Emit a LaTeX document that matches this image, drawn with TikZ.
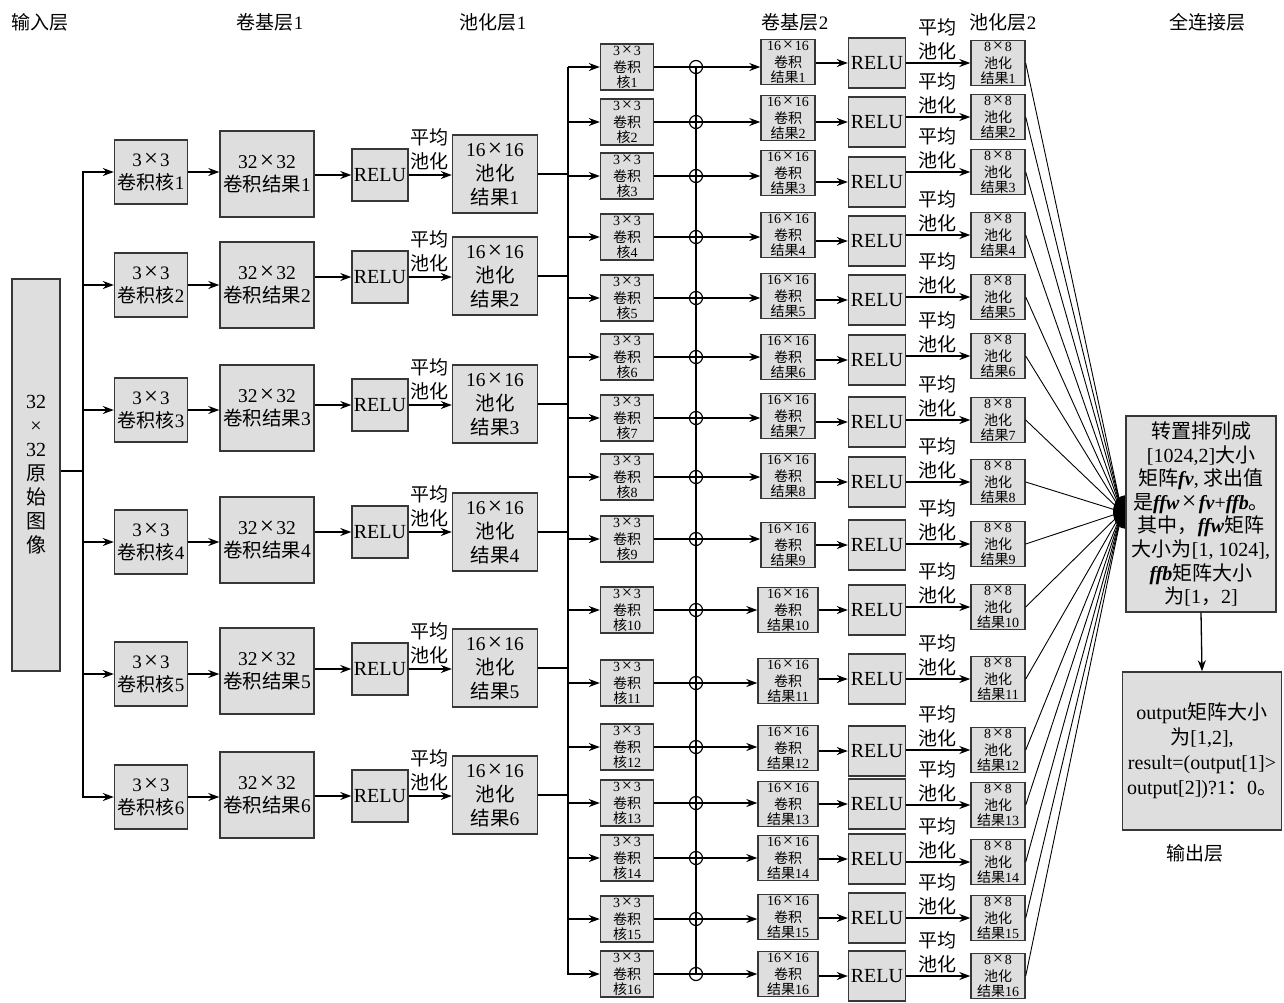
\documentclass[tikz,border=0pt]{standalone}
\usepackage{graphicx}
\usepackage{fontspec}
\setmainfont{Liberation Serif}
\newfontfamily\cjk{Noto Sans CJK SC}
\usetikzlibrary{arrows.meta}
\definecolor{boxgray}{RGB}{222,222,222}
\definecolor{edge}{RGB}{55,55,55}
\newcommand{\zh}[1]{{\cjk #1}}
\newcommand{\tms}{\hspace{0.12em}\scalebox{1.3}{×}\hspace{0.12em}}
\newcommand{\bi}[1]{\textbf{\textit{#1}}}
\begin{document}
\begin{tikzpicture}[x=1pt,y=-1pt,
  box/.style={draw=edge, fill=boxgray, line width=1.4pt, inner sep=0pt, align=center},
  kone/.style={box, minimum width=73pt, minimum height=64pt, font=\fontsize{19}{23}\selectfont},
  rone/.style={box, minimum width=94pt, minimum height=86pt, font=\fontsize{19.5}{23}\selectfont},
  uone/.style={box, minimum width=56pt, minimum height=52pt, font=\fontsize{20}{23}\selectfont},
  pone/.style={box, minimum width=85pt, minimum height=78pt, font=\fontsize{19.5}{24}\selectfont},
  ktwo/.style={box, minimum width=53pt, minimum height=46pt, font=\fontsize{14}{14.5}\selectfont},
  rtwo/.style={box, minimum height=45pt, font=\fontsize{14}{14.5}\selectfont},
  utwo/.style={box, minimum width=57pt, minimum height=50pt, font=\fontsize{20}{23}\selectfont},
  ptwo/.style={box, minimum width=54pt, minimum height=45pt, font=\fontsize{14}{14.5}\selectfont},
  lbl/.style={inner sep=0pt, font=\fontsize{19}{22}\selectfont},
  ttl/.style={inner sep=0pt, font=\fontsize{19}{22}\selectfont},
  circ/.style={circle, draw=black, line width=1.2pt, minimum size=13pt, inner sep=0pt},
  ln/.style={draw=black, line width=1.3pt},
  arr/.style={ln, -{Stealth[length=11pt,width=8pt]}},
  fcl/.style={draw=black, line width=0.9pt}
]
\useasboundingbox (0,0) rectangle (1284,1002);
\fill[white] (0,0) rectangle (1284,1002);

% titles
\node[ttl] (t1) at (40,22) {\zh{输入层}};
\node[ttl] (t2) at (270,22) {\zh{卷基层}1};
\node[ttl] (t3) at (493,22) {\zh{池化层}1};
\node[ttl] (t4) at (795,22) {\zh{卷基层}2};
\node[ttl] (t5) at (1003,22) {\zh{池化层}2};
\node[ttl] (t6) at (1207,22) {\zh{全连接层}};

% input
\node[box, minimum width=48pt, minimum height=392pt, font=\fontsize{20}{24}\selectfont] (in) at (36,475)
  {32\\×\\32\\\zh{原}\\\zh{始}\\\zh{图}\\\zh{像}};
\coordinate (inbus) at (83,471);
\coordinate (bustop) at (568,67);
\draw[ln] (in.east |- inbus) -- (inbus);

% stage 1
\foreach \i/\ky/\ry/\uy/\py in {1/172/174/175/174,2/285/285/277/276,3/410/408/405/404,4/542/540/532/532,5/674/671/669/668,6/797/795/796/795}{
  \node[kone] (ka\i) at (151,\ky) {3\tms3\\\zh{卷积核}\i};
  \node[rone] (ra\i) at (267,\ry) {32\tms32\\\zh{卷积结果}\i};
  \node[uone] (ua\i) at (380,\uy) {RELU};
  \node[pone] (pa\i) at (495,\py) {16\tms16\\\zh{池化}\\\zh{结果}\i};
  \node[lbl] (la\i) at (429,\uy-38) {\zh{平均}};
  \node[lbl] (lb\i) at (429,\uy-14) {\zh{池化}};
  \draw[arr] (inbus) |- (ka\i.west);
  \draw[arr] (ka\i.east) -- (ka\i.east -| ra\i.west);
  \draw[arr] (ra\i.east |- ua\i.west) -- (ua\i.west);
  \draw[arr] (ua\i.east) -- (ua\i.east -| pa\i.west);
  \draw[ln] (pa\i.east) -- (pa\i.east -| bustop);
}

\coordinate (conv) at (1122,512);

% stage 2
\foreach \i/\ky/\ry/\uy/\py in {1/67/62/63/63,2/122/118/122/117,3/176/173/182/172,4/237/235/241/235,5/298/296/300/297,6/357/357/360/356,7/418/416/422/420,8/477/476/482/482,9/539/545/545/544,10/610/610/610/607,11/683/681/679/679,12/747/748/751/750,13/803/804/804/805,14/858/858/859/862,15/919/917/918/918,16/974/974/976/976}{
  \node[ktwo] (kb\i) at (627,\ky) {3\tms3\\[2.5pt]\zh{卷积}\\\zh{核}\i};
  \node[circ] (c\i) at (696,\ky) {};
  \node[rtwo, minimum width={\i>9?60:54}] (rb\i) at (788,\ry) {16\tms16\\[2.5pt]\zh{卷积}\\\zh{结果}\i};
  \node[utwo] (ub\i) at (877,\uy) {RELU};
  \node[ptwo] (pb\i) at (998,\py) {8\tms8\\[2.5pt]\zh{池化}\\\zh{结果}\i};
  \node[lbl] (lc\i) at (937,\py-36) {\zh{平均}};
  \node[lbl] (ld\i) at (937,\py-12) {\zh{池化}};
  \draw[arr] (bustop) |- (kb\i.west);
  \draw[ln] (kb\i.east) -- (c\i.center);
  \draw[arr] (c\i.center) -- (c\i.center -| rb\i.west);
  \draw[arr] (rb\i.east |- ub\i.west) -- (ub\i.west);
  \draw[arr] (ub\i.east |- pb\i.west) -- (pb\i.west);
  \draw[fcl] (pb\i.east) -- (conv);
}
\draw[ln] (c1.center) -- (c16.center);

% fully connected
\fill[black] (1126,512) ellipse [x radius=13, y radius=17];
\node[box, minimum width=150pt, minimum height=196pt, font=\fontsize{20}{23.6}\selectfont] (fc) at (1201,514)
  {\zh{转置排列成}\\{}[1024,2]\zh{大小}\\\zh{矩阵}\bi{fv}, \zh{求出值}\\\zh{是}\bi{ffw}\tms\bi{fv}+\bi{ffb}\zh{。}\\\zh{其中，}\bi{ffw}\zh{矩阵}\\\zh{大小为}[1, 1024],\\\bi{ffb}\zh{矩阵大小}\\\zh{为}[1\zh{，}2]};
\node[box, minimum width=159pt, minimum height=158pt, font=\fontsize{20}{25}\selectfont] (out) at (1202,751)
  {output\zh{矩阵大小}\\\zh{为}[1,2],\\result=(output[1]>\\output[2])?1\zh{：}0\zh{。}};
\draw[arr] (fc.south) -- (out.north);
\node[ttl] (t7) at (1195,853) {\zh{输出层}};
\end{tikzpicture}
\end{document}
